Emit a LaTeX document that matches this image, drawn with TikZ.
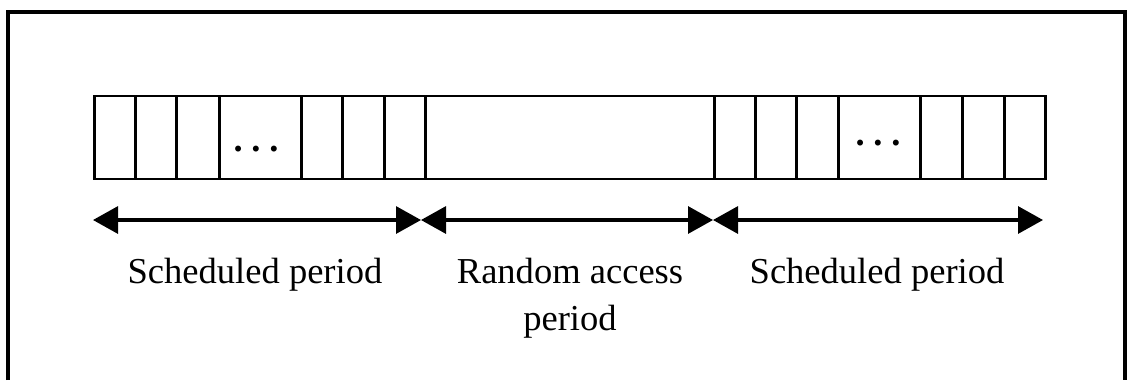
\documentclass[tikz,border=0pt]{standalone}
\usepackage{fontspec}
\setmainfont{Liberation Serif}
\usetikzlibrary{arrows.meta}

\begin{document}
\begin{tikzpicture}[x=0.75pt,y=-0.75pt,
  slot/.style={draw,line width=2pt,inner sep=0pt,minimum height=62.25pt,anchor=west},
  span/.style={{Triangle[length=18.75pt,width=20.25pt]}-{Triangle[length=18.75pt,width=20.25pt]},line width=2.4pt},
  gap/.style={font=\fontsize{27.4}{30}\selectfont\bfseries,inner sep=0pt},
  period/.style={font=\fontsize{27.4}{35.25}\selectfont,align=center,inner sep=0pt,anchor=base}]

  \useasboundingbox (0,0) rectangle (1127,380);

  % frame, cut off at the bottom
  \draw[line width=2.6pt] (8,380) -- (8,12) -- (1125,12) -- (1125,380);

  % slots of the frame
  \foreach \n/\l/\r in {s1/93/134, s2/134/175, s3/175/218, s4/218/300, s5/300/341, s6/341/383, s7/383/424,
                        ra/424/713,
                        t1/713/754, t2/754/795, t3/795/837, t4/837/919, t5/919/961, t6/961/1003, t7/1003/1044}
    \node[slot,minimum width={(\r-\l)*0.75pt}] (\n) at (\l,137.5) {};

  \node[gap] (dl) at (256,149) {.\hspace{6.6pt}.\hspace{6.6pt}.};
  \node[gap] (dr) at (878,143) {.\hspace{6.6pt}.\hspace{6.6pt}.};

  % periods
  \coordinate (a0) at (93,220);
  \coordinate (a1) at (421,220);
  \coordinate (a2) at (713,220);
  \coordinate (a3) at (1043,220);

  \draw[span] (a0) -- (a1);
  \draw[span] (a1) -- (a2);
  \draw[span] (a2) -- (a3);

  \node[period] (p1) at (255,283) {Scheduled period};
  \node[period] (p2) at (570,330) {Random access\\period};
  \node[period] (p3) at (877,283) {Scheduled period};

\end{tikzpicture}
\end{document}
